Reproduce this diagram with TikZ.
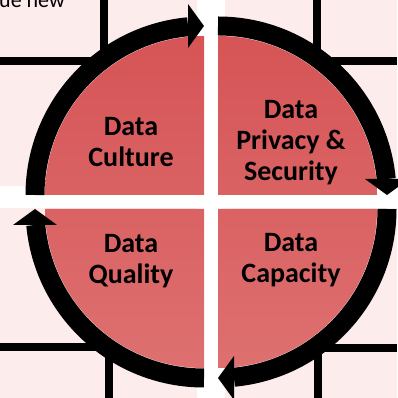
\documentclass[tikz,border=0pt]{standalone}
\usepackage{fontspec}
\setmainfont{Carlito}
\usetikzlibrary{calc}
\definecolor{bgpink}{RGB}{253,236,236}
\definecolor{redtop}{RGB}{214,84,86}
\definecolor{redmid}{RGB}{218,98,99}
\definecolor{redbot}{RGB}{222,112,112}
\tikzset{
  gridline/.style={line width=8pt, black},
  lbl/.style={font=\fontsize{28}{31}\selectfont\bfseries, align=center, inner sep=0pt, anchor=base, text=black},
  ring/.style={line width=19pt, black},
}
\begin{document}
\begin{tikzpicture}[x=1pt,y=1pt]
\useasboundingbox (0,0) rectangle (397,398);
\fill[bgpink] (0,0) rectangle (397,398);
\fill[white] (0,190) rectangle (397,212);
\fill[white] (197,0) rectangle (225,398);
% top-left cropped text
\node[anchor=base west, inner sep=0pt, font=\fontsize{22}{26}\selectfont] (toptext) at (-1,390) {ue new};
% background table lines
\draw[gridline] (0,337) -- (104,337) -- (104,398);
\draw[gridline] (317,398) -- (317,337) -- (397,337);
\draw[gridline] (0,50.5) -- (109,50.5) -- (109,0);
\draw[gridline] (397,50) -- (317.5,50) -- (317.5,0);
% red quarters
\shade[top color=redtop, bottom color=redmid] (204,203) -- ++(180:159pt) arc[start angle=180, end angle=90, radius=159pt] -- cycle;
\shade[top color=redtop, bottom color=redmid] (218,203) -- ++(90:159pt) arc[start angle=90, end angle=0, radius=159pt] -- cycle;
\shade[top color=redmid, bottom color=redbot] (218,189) -- ++(0:159pt) arc[start angle=0, end angle=-90, radius=159pt] -- cycle;
\shade[top color=redmid, bottom color=redbot] (204,189) -- ++(-90:159pt) arc[start angle=-90, end angle=-180, radius=159pt] -- cycle;
% ring arrows
\foreach \cx/\cy/\s in {204/203/180, 218/203/90, 218/189/0, 204/189/-90}{
  \draw[ring] ($(\cx,\cy)+(\s:169pt)$) arc[start angle=\s, end angle=\s-84.6, radius=169pt];
  \fill ($(\cx,\cy)+(\s-90:169pt)$)
     -- ($(\cx,\cy)+(\s-90:169pt)+(\s:16pt)+(\s-90:22pt)$)
     -- ($(\cx,\cy)+(\s-90:169pt)+(\s:16pt)+(\s+90:22pt)$) -- cycle;
}
% labels (base = baseline of last line)
\node[lbl] (culture) at (131,231) {Data\\Culture};
\node[lbl] (privacy) at (291,217) {Data\\Privacy \&\\Security};
\node[lbl] (quality) at (131,114) {Data\\Quality};
\node[lbl] (capacity) at (291,115) {Data\\Capacity};
\end{tikzpicture}
\end{document}
